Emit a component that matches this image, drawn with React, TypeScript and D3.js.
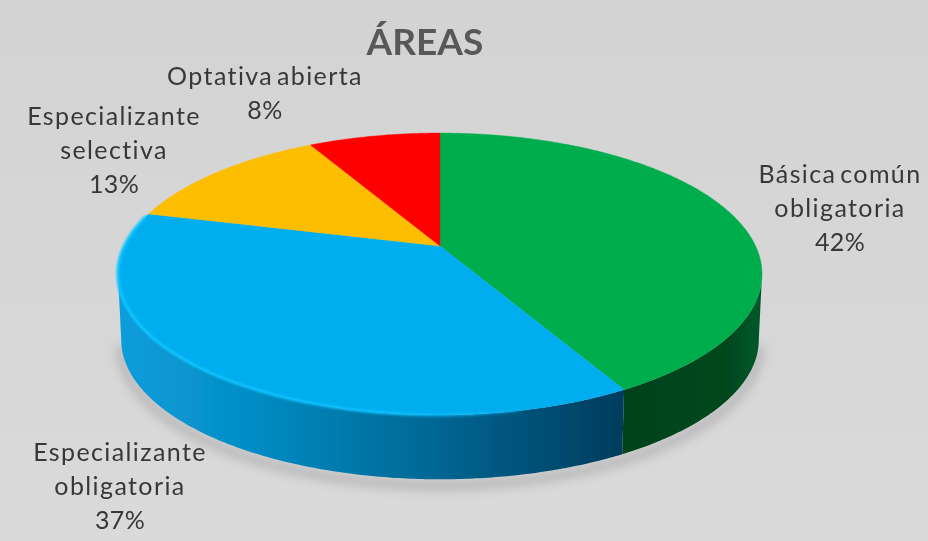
import React from "react";
import * as d3 from "d3";

const titleText = "ÁREAS";
const categories = ["Básica común obligatoria", "Especializante obligatoria", "Especializante selectiva", "Optativa abierta"];
const values = [42, 37, 13, 8];
const topColors = ["#00ad4e", "#00aeef", "#fdbd00", "#ff0000"];
const labelLines = [["Básica común", "obligatoria"], ["Especializante", "obligatoria"], ["Especializante", "selectiva"], ["Optativa abierta"]];
const labelAnchors: [number, number][] = [[840, 183], [120, 461], [114, 125], [265, 85]];

const W = 928, H = 541;
const cx = 440, cy = 246, R = 315.6, S = 135.4, K = 0.1986, lineGap = 33.8;

// perspective projection of the pie disc
const project = (a: number, scale = 1, dy = 0): [number, number] => {
  const u = Math.sin(a), v = -Math.cos(a), d = 1 - K * v;
  return [cx + (R * scale * u) / d, cy + dy + (S * scale * v) / d];
};
const sample = (a0: number, a1: number, scale = 1, dy = 0) => {
  const n = Math.max(2, Math.ceil(Math.abs(a1 - a0) / 0.01));
  return d3.range(n + 1).map((i) => project(a0 + ((a1 - a0) * i) / n, scale, dy));
};
const line = d3.line<[number, number]>();
const pie = d3.pie<number>().sort(null)(values);

const BOT = 0.99, DY = 66;
const tangent = Math.acos(K); // angle from the horizontal where the disc is widest on screen

export default function App() {
  const blue = pie[1], green = pie[0];
  const sides = [
    { a0: Math.PI - tangent, a1: green.endAngle, fill: "url(#sideGreen)" },
    { a0: blue.startAngle, a1: Math.PI + tangent, fill: "url(#sideBlue)" },
  ];
  const silhouette = sample(Math.PI - tangent, Math.PI + tangent, BOT, DY);
  return (
    <svg width={W} height={H} viewBox={`0 0 ${W} ${H}`} style={{ position: "fixed", left: 0, top: 0, display: "block" }}>
      <defs>
        <linearGradient id="bg" x1="0" y1="0" x2="0" y2="1">
          <stop offset="0" stopColor="#d3d3d3" />
          <stop offset="1" stopColor="#dadada" />
        </linearGradient>
        <linearGradient id="sideBlue" gradientUnits="userSpaceOnUse" x1="118" y1="0" x2="625" y2="0">
          <stop offset="0" stopColor="#0a9ddc" />
          <stop offset="0.25" stopColor="#058ec6" />
          <stop offset="0.55" stopColor="#006f9e" />
          <stop offset="0.8" stopColor="#00527a" />
          <stop offset="1" stopColor="#003c5c" />
        </linearGradient>
        <linearGradient id="sideGreen" gradientUnits="userSpaceOnUse" x1="625" y1="0" x2="762" y2="0">
          <stop offset="0" stopColor="#03421c" />
          <stop offset="0.75" stopColor="#03471f" />
          <stop offset="1" stopColor="#045a2a" />
        </linearGradient>
        <linearGradient id="rimFade" gradientUnits="userSpaceOnUse" x1="117" y1="0" x2="600" y2="0">
          <stop offset="0" stopColor="#10c6ff" stopOpacity="1" />
          <stop offset="0.6" stopColor="#10c0ff" stopOpacity="0.9" />
          <stop offset="1" stopColor="#10b0f0" stopOpacity="0" />
        </linearGradient>
        <filter id="shadow" x="-10%" y="-20%" width="120%" height="140%">
          <feGaussianBlur stdDeviation="6" />
        </filter>
        <filter id="soft" x="-5%" y="-5%" width="110%" height="110%">
          <feGaussianBlur stdDeviation="0.7" />
        </filter>
        <filter id="rim" x="-5%" y="-5%" width="110%" height="110%">
          <feGaussianBlur stdDeviation="1" />
        </filter>
        <filter id="txt" x="-5%" y="-5%" width="110%" height="110%">
          <feGaussianBlur stdDeviation="0.45" />
        </filter>
      </defs>
      <rect width={W} height={H} fill="url(#bg)" />

      <path d={line(silhouette) ?? ""} fill="none" stroke="#8a8a8a" strokeWidth={6} opacity={0.7} filter="url(#shadow)" transform="translate(0,6)" />

      <g filter="url(#soft)">
        {sides.map((s, i) => (
          <path key={i} d={(line([...sample(s.a0, s.a1), ...sample(s.a1, s.a0, BOT, DY)]) ?? "") + "Z"} fill={s.fill} />
        ))}
        {pie.map((p, i) => (
          <path key={i} d={(line([[cx, cy], ...sample(p.startAngle, p.endAngle)]) ?? "") + "Z"} fill={topColors[i]} stroke={topColors[i]} strokeWidth={0.4} />
        ))}
      </g>

      <path d={line(sample(blue.startAngle + 0.3, blue.endAngle - 0.02)) ?? ""} fill="none" stroke="url(#rimFade)" strokeWidth={3} filter="url(#rim)" />

      <g filter="url(#txt)" textAnchor="middle" style={{ fontFamily: "Lato, sans-serif" }}>
        <text x={425} y={55} fontSize={37} fontWeight={700} fill="#595959">{titleText}</text>
        {categories.map((c, i) => (
          <text key={c} x={labelAnchors[i][0]} y={labelAnchors[i][1]} fontSize={25} fill="#383838">
            {labelLines[i].map((t, j) => (
              <tspan key={j} x={labelAnchors[i][0]} dy={j === 0 ? 0 : lineGap} letterSpacing={1.4} wordSpacing={-4}>{t}</tspan>
            ))}
            <tspan x={labelAnchors[i][0]} dy={lineGap} letterSpacing={0.4}>{`${values[i]}%`}</tspan>
          </text>
        ))}
      </g>
    </svg>
  );
}
